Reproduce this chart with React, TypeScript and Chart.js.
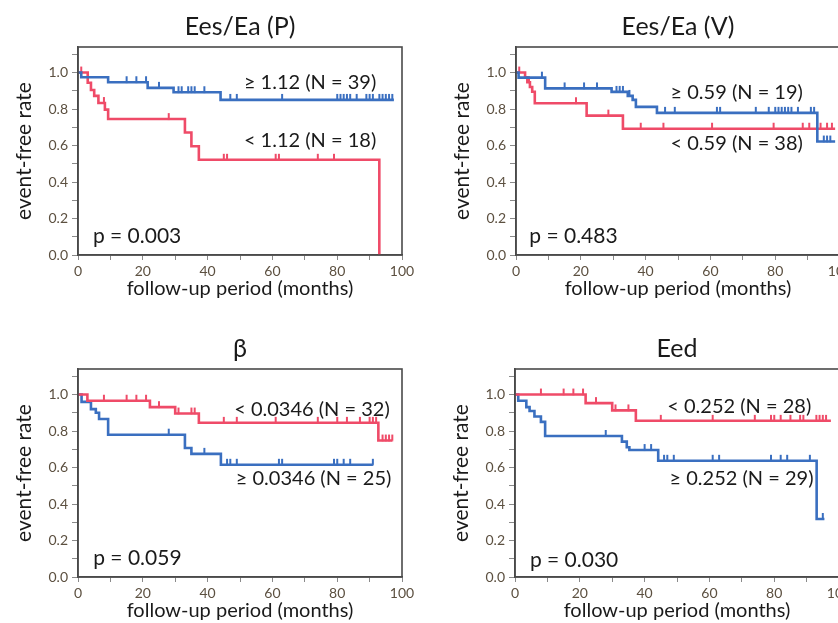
import React, { useEffect, useRef } from 'react';
import { Chart, registerables } from 'chart.js';

Chart.register(...registerables);

const BLUE = '#3a6fc0';
const RED = '#ef4b68';
const FONT = 'Lato, "Open Sans", sans-serif';

// ---------- Panel 1: Ees/Ea (P) ----------
const pBlueT = [0, 1, 9.3, 21.5, 29.5, 44, 97.5];
const pBlueS = [1, 0.974, 0.947, 0.916, 0.892, 0.85, 0.85];
const pBlueCens = [15, 18, 21, 25, 31, 32, 34, 35, 36, 39, 47, 49, 63, 80, 81, 82, 83, 84, 86, 89, 90, 91, 93, 94, 95, 96, 97];
const pRedT = [0, 3, 4, 5, 6.3, 8.3, 9.3, 33, 35, 37.3, 93];
const pRedS = [1, 0.944, 0.904, 0.872, 0.833, 0.797, 0.745, 0.671, 0.596, 0.522, 0];
const pRedCens = [1, 8, 28, 45, 46, 61, 62, 74, 79];

// ---------- Panel 2: Ees/Ea (V) ----------
const vBlueT = [0, 0.8, 9, 29.5, 34.5, 36, 37, 43.5, 93, 98.5];
const vBlueS = [1, 0.972, 0.913, 0.894, 0.872, 0.85, 0.812, 0.779, 0.622, 0.622];
const vBlueCens = [8, 15, 21, 25, 31, 32, 33, 35, 46, 49, 62, 63, 74, 78, 80, 81, 82, 83, 84, 85, 87, 91, 92, 95, 96, 97];
const vRedT = [0, 2.8, 3.5, 4.3, 5, 5.8, 21.8, 33, 98.5];
const vRedS = [1, 0.974, 0.947, 0.921, 0.895, 0.832, 0.764, 0.692, 0.692];
const vRedCens = [1, 4, 18.5, 28.5, 38.5, 45.5, 60.5, 79.5, 88.5, 90.5, 94, 96, 97.5];

// ---------- Panel 3: β ----------
const bRedT = [0, 2.9, 22.2, 30, 37.3, 92.7, 97];
const bRedS = [1, 0.966, 0.931, 0.896, 0.845, 0.748, 0.748];
const bRedCens = [8, 15, 18, 21, 25, 31, 35, 36, 45, 49, 61, 74, 80, 83, 87, 90, 91, 92, 94, 95, 96, 97];
const bBlueT = [0, 1.1, 4, 5.5, 6.5, 9.3, 33, 35, 44.1, 91];
const bBlueS = [1, 0.96, 0.92, 0.9, 0.866, 0.78, 0.707, 0.675, 0.615, 0.615];
const bBlueCens = [28, 39, 46, 47, 49, 62, 63, 79, 80, 82, 84, 91];

// ---------- Panel 4: Eed ----------
const eRedT = [0, 21.8, 30, 37.3, 97.5];
const eRedS = [1, 0.953, 0.913, 0.856, 0.856];
const eRedCens = [8, 15, 18, 21, 25, 31, 35, 45, 61, 74, 79, 80, 82, 85, 88, 89, 93, 94, 95, 96];
const eBlueT = [0, 1, 3.5, 4.5, 6, 8, 9.3, 33, 34.5, 35.3, 44.2, 93.1, 95.5];
const eBlueS = [1, 0.966, 0.931, 0.91, 0.88, 0.85, 0.773, 0.742, 0.711, 0.696, 0.637, 0.318, 0.318];
const eBlueCens = [28, 40, 42, 46, 47, 49, 61, 63, 79, 82, 84, 91, 95];

// ---------- Text ----------
const panelTitles = ['Ees/Ea (P)', 'Ees/Ea (V)', 'β', 'Eed'];
const pValues = ['p = 0.003', 'p = 0.483', 'p = 0.059', 'p = 0.030'];
const upperLabels = ['≥ 1.12 (N = 39)', '≥ 0.59 (N = 19)', '< 0.0346 (N = 32)', '< 0.252 (N = 28)'];
const lowerLabels = ['< 1.12 (N = 18)', '< 0.59 (N = 38)', '≥ 0.0346 (N = 25)', '≥ 0.252 (N = 29)'];
const upperLabelPos = [[51.2, 0.945], [47.7, 0.889], [48.2, 0.92], [47, 0.932]];
const lowerLabelPos = [[51.2, 0.627], [47.7, 0.609], [48.7, 0.542], [47.7, 0.54]];
const pValuePos = [[4.6, 0.105], [4.1, 0.105], [4.7, 0.103], [4.6, 0.094]];

const xTickValues = [0, 20, 40, 60, 80, 100];
const yTickValues = [0, 0.2, 0.4, 0.6, 0.8, 1.0];

function steps(ts: number[], ss: number[]) {
  return ts.map((t, i) => ({ x: t, y: ss[i] }));
}
function survAt(ts: number[], ss: number[], t: number) {
  let s = ss[0];
  for (let i = 0; i < ts.length; i++) {
    if (ts[i] <= t) s = ss[i];
  }
  return s;
}
function cens(ts: number[], ss: number[], c: number[]) {
  return c.map((t) => ({ x: t, y: survAt(ts, ss, t) }));
}

// censor mark: a short vertical tick rising above the curve
function censorMark(color: string) {
  const cv = document.createElement('canvas');
  cv.width = 4;
  cv.height = 14;
  const g = cv.getContext('2d')!;
  g.fillStyle = color;
  g.fillRect(1, 1, 2, 6.5);
  return cv;
}

type Curve = { t: number[]; s: number[]; c: number[]; color: string };

const panels: { curves: Curve[] }[] = [
  { curves: [
    { t: pBlueT, s: pBlueS, c: pBlueCens, color: BLUE },
    { t: pRedT, s: pRedS, c: pRedCens, color: RED },
  ] },
  { curves: [
    { t: vBlueT, s: vBlueS, c: vBlueCens, color: BLUE },
    { t: vRedT, s: vRedS, c: vRedCens, color: RED },
  ] },
  { curves: [
    { t: bRedT, s: bRedS, c: bRedCens, color: RED },
    { t: bBlueT, s: bBlueS, c: bBlueCens, color: BLUE },
  ] },
  { curves: [
    { t: eRedT, s: eRedS, c: eRedCens, color: RED },
    { t: eBlueT, s: eBlueS, c: eBlueCens, color: BLUE },
  ] },
];

const CW = 424;
const CH = 311;

function Panel({ idx, left, top }: { idx: number; left: number; top: number }) {
  const ref = useRef<HTMLCanvasElement>(null);
  useEffect(() => {
    const p = panels[idx];
    const datasets: any[] = [];
    p.curves.forEach((cv) => {
      datasets.push({
        type: 'line',
        data: steps(cv.t, cv.s),
        borderColor: cv.color,
        backgroundColor: cv.color,
        borderWidth: 2.6,
        stepped: 'before',
        pointRadius: 0,
        fill: false,
      });
      datasets.push({
        type: 'scatter',
        data: cens(cv.t, cv.s, cv.c),
        borderColor: cv.color,
        backgroundColor: cv.color,
        pointStyle: censorMark(cv.color),
        pointRadius: 4,
        showLine: false,
      });
    });
    const texts = [
      { text: upperLabels[idx], pos: upperLabelPos[idx], size: 20 },
      { text: lowerLabels[idx], pos: lowerLabelPos[idx], size: 20 },
      { text: pValues[idx], pos: pValuePos[idx], size: 21 },
    ];
    const deco = {
      id: 'deco',
      afterDraw(chart: any) {
        const { ctx, chartArea: a, scales } = chart;
        ctx.save();
        ctx.fillStyle = '#1a1a1a';
        ctx.textAlign = 'left';
        ctx.textBaseline = 'middle';
        texts.forEach((it) => {
          ctx.font = `${it.size}px ${FONT}`;
          ctx.fillText(it.text, scales.x.getPixelForValue(it.pos[0]), scales.y.getPixelForValue(it.pos[1]));
        });
        ctx.strokeStyle = '#4a4a4a';
        ctx.lineWidth = 1.6;
        ctx.strokeRect(a.left, a.top, a.right - a.left, a.bottom - a.top);
        ctx.restore();
      },
    };
    const chart = new Chart(ref.current!, {
      type: 'line',
      data: { datasets },
      options: {
        animation: false,
        responsive: false,
        devicePixelRatio: 1,
        layout: { padding: { left: 0, right: 22, top: 0, bottom: 0 } },
        plugins: {
          legend: { display: false },
          tooltip: { enabled: false },
          title: {
            display: true,
            text: panelTitles[idx],
            fullSize: false,
            color: '#1a1a1a',
            font: { family: FONT, size: 25, weight: 'normal' },
            padding: { top: 12, bottom: 5 },
          },
        },
        scales: {
          x: {
            type: 'linear',
            min: 0,
            max: 100,
            afterFit: (s: any) => { s.height = CH - 255; },
            ticks: {
              stepSize: 10,
              autoSkip: false,
              maxRotation: 0,
              padding: 3,
              color: '#5c5040',
              font: { family: FONT, size: 14 },
              callback: (v: any) => (xTickValues.includes(Number(v)) ? String(v) : ''),
            },
            grid: { drawOnChartArea: false, drawTicks: true, tickLength: 5, color: '#8a8a8a' },
            border: { display: true, color: '#4a4a4a', width: 1.6 },
            title: {
              display: true,
              text: 'follow-up period (months)',
              color: '#1a1a1a',
              font: { family: FONT, size: 20 },
              padding: { top: 0, bottom: 10 },
            },
          },
          y: {
            type: 'linear',
            min: 0,
            max: 1.14,
            afterFit: (s: any) => { s.width = 78; },
            ticks: {
              stepSize: 0.1,
              includeBounds: false,
              autoSkip: false,
              padding: 4,
              color: '#5c5040',
              font: { family: FONT, size: 14 },
              callback: (v: any) => {
                const n = Math.round(Number(v) * 10) / 10;
                return yTickValues.some((k) => Math.abs(k - n) < 1e-6) ? n.toFixed(1) : '';
              },
            },
            grid: { drawOnChartArea: false, drawTicks: true, tickLength: 6, color: '#8a8a8a' },
            border: { display: true, color: '#4a4a4a', width: 1.6 },
            title: {
              display: true,
              text: 'event-free rate',
              color: '#1a1a1a',
              font: { family: FONT, size: 21 },
              padding: { top: 12, bottom: 0 },
            },
          },
        },
      } as any,
      plugins: [deco],
    });
    return () => chart.destroy();
  }, [idx]);
  return (
    <canvas
      ref={ref}
      width={CW}
      height={CH}
      style={{ position: 'absolute', left, top, width: CW, height: CH }}
    />
  );
}

export default function App() {
  return (
    <div
      style={{
        position: 'absolute',
        left: 0,
        top: 0,
        width: 838,
        height: 623,
        overflow: 'hidden',
        background: '#fff',
      }}
    >
      <Panel idx={0} left={0} top={0} />
      <Panel idx={1} left={438} top={0} />
      <Panel idx={2} left={0} top={322} />
      <Panel idx={3} left={437} top={322} />
    </div>
  );
}
